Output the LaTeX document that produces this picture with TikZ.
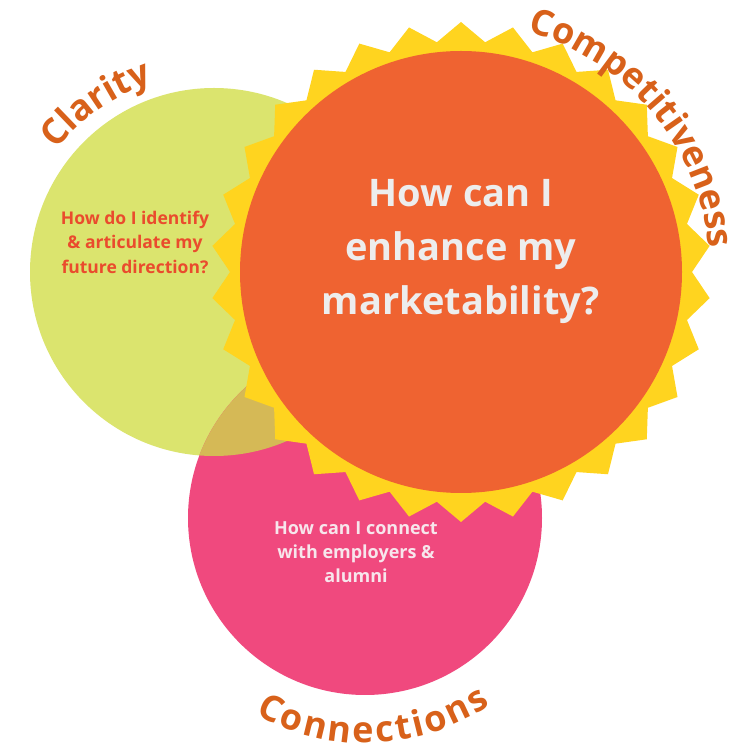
\documentclass[tikz,border=0pt]{standalone}
\usepackage{fontspec}
\setmainfont{Open Sans}
\usetikzlibrary{decorations.text}
\definecolor{Lime}{HTML}{DBE46E}
\definecolor{Rose}{HTML}{F0497E}
\definecolor{Ochre}{HTML}{D5B956}
\definecolor{Sun}{HTML}{FFD41F}
\definecolor{Flame}{HTML}{EF6331}
\definecolor{Rust}{HTML}{D8611A}
\definecolor{Ember}{HTML}{EA4B2D}
\definecolor{Mist}{HTML}{EDEDED}
\definecolor{Blush}{HTML}{F7E6EC}
\newcommand\arcfont{\fontsize{36}{36}\selectfont\bfseries}
\newcommand\trackedfont{\arcfont\kern2.5pt}
\tikzset{
  question/.style={align=center,inner sep=0pt},
  arclabel/.style={decorate,decoration={text along path,text align=center,text color=Rust}}
}

\begin{document}
\begin{tikzpicture}[x=1pt,y=1pt]
  \useasboundingbox (0,0) rectangle (750,750);
  \fill[white] (0,0) rectangle (750,750);
  \coordinate (G) at (214,478);
  \coordinate (P) at (365,232);
  \coordinate (O) at (461,478);
  % the two small circles and their overlap
  \fill[Lime] (G) circle[radius=184];
  \fill[Rose] (P) circle[radius=177];
  \begin{scope}
    \clip (G) circle[radius=184];
    \fill[Ochre] (P) circle[radius=177];
  \end{scope}
  % sunburst behind the big one
  \begin{scope}[shift={(O)}]
    \fill[Sun] (0:231) foreach \a in {0,12,...,348} {-- (\a+6:250) -- (\a+12:231)} -- cycle;
  \end{scope}
  \fill[Flame] (O) circle[radius=221];
  % questions
  \node[question,text=Ember,font=\fontsize{17.5}{24.5}\selectfont\bfseries] (clarq) at (135,508)
    {How do I identify\\\& articulate my\\future direction?};
  \node[question,text=Mist,font=\fontsize{38}{54}\selectfont\bfseries] (compq) at (461,498)
    {How can I\\enhance my\\marketability?};
  \node[question,text=Blush,font=\fontsize{18}{24}\selectfont\bfseries] (connq) at (356,198)
    {How can I connect\\with employers \&\\alumni};
  % curved titles
  \path[arclabel,decoration={text={|\arcfont|Clarity}}]
    ([shift={(165:199)}]G) arc[start angle=165,end angle=85,radius=199];
  \path[arclabel,decoration={text={|\arcfont|Competitiveness}}]
    ([shift={(85:249)}]O) arc[start angle=85,end angle=-5,radius=249];
  \path[arclabel,decoration={text={|\trackedfont|Connections}}]
    ([shift={(-133:225)}]P) arc[start angle=-133,end angle=-43,radius=225];
\end{tikzpicture}
\end{document}
